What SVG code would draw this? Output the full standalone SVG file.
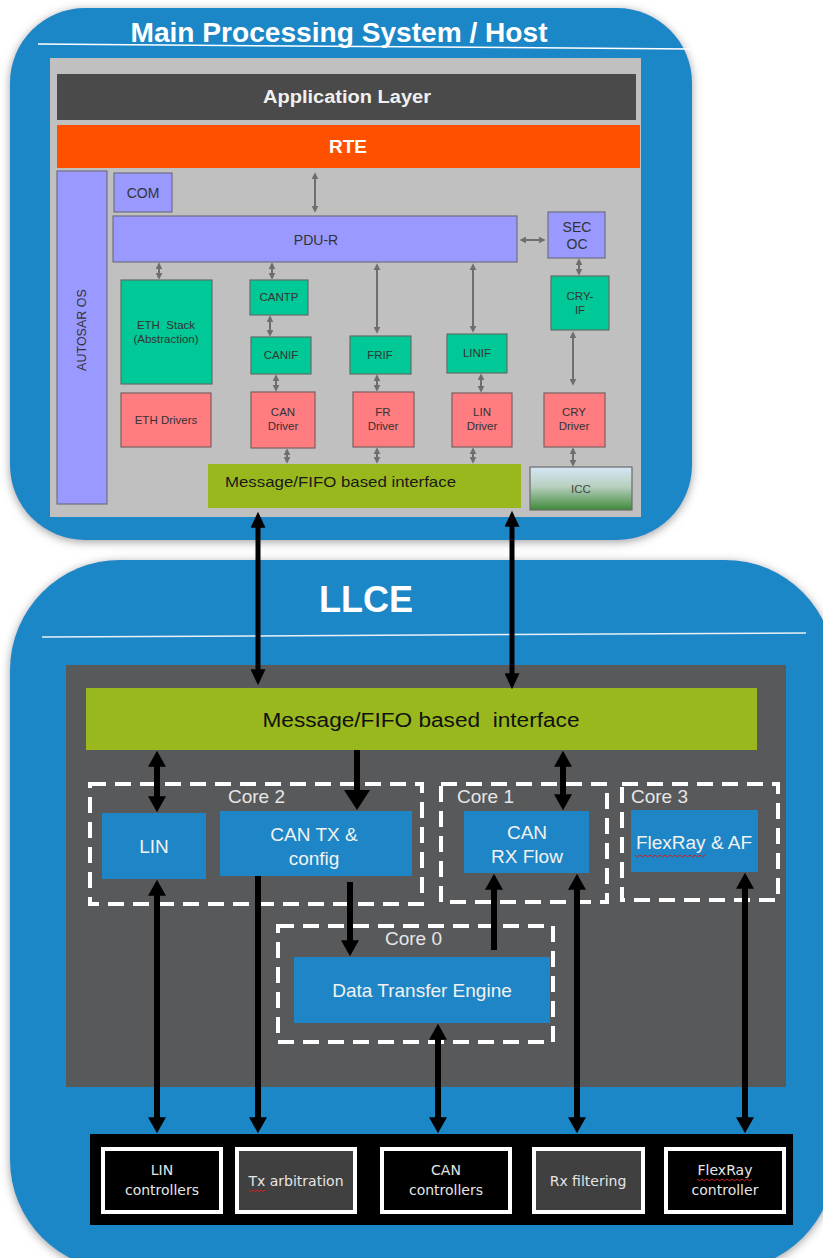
<svg xmlns="http://www.w3.org/2000/svg" width="823" height="1258" viewBox="0 0 823 1258">
<defs>
<style>
text{font-family:"Liberation Sans",Arial,sans-serif;}
.h{fill:#333;font-size:11.5px;text-anchor:middle;}
.h14{font-size:14px;}
.pu{fill:#9999ff;stroke:#6f6f80;stroke-width:1.2;}
.gr{fill:#00c896;stroke:#5f6f66;stroke-width:1.2;}
.rd{fill:#ff7c80;stroke:#7a6060;stroke-width:1.2;}
.sa{stroke:#6e6e6e;stroke-width:2;fill:none;marker-start:url(#ms);marker-end:url(#ms);}
.ba{stroke:#000;stroke-width:6;fill:none;}
.bl{fill:#1e86c6;}
.w{fill:#f2f2f2;font-size:19px;text-anchor:middle;}
.core{fill:none;stroke:#fff;stroke-width:4;stroke-dasharray:16 9;}
.cl{fill:#e6e6e6;font-size:19px;}
.ctl{stroke:#fff;stroke-width:4;}
.bt{fill:#e6e6e6;font-size:14px;text-anchor:middle;font-family:"DejaVu Sans",sans-serif;}
.sq{fill:none;stroke:#d02020;stroke-width:1;}
</style>
<marker id="ms" markerUnits="userSpaceOnUse" markerWidth="7" markerHeight="7" viewBox="0 0 10 10" refX="0.5" refY="5" orient="auto-start-reverse" preserveAspectRatio="none"><path d="M0,0 L10,5 L0,10 z" fill="#6e6e6e"/></marker>
<marker id="mb" markerUnits="userSpaceOnUse" markerWidth="16" markerHeight="18" viewBox="0 0 10 10" refX="0.5" refY="5" orient="auto-start-reverse" preserveAspectRatio="none"><path d="M0,0 L10,5 L0,10 z" fill="#000"/></marker>
<marker id="mh" markerUnits="userSpaceOnUse" markerWidth="20" markerHeight="26" viewBox="0 0 10 10" refX="0.5" refY="5" orient="auto-start-reverse" preserveAspectRatio="none"><path d="M0,0 L10,5 L0,10 z" fill="#000"/></marker>
<marker id="mm" markerUnits="userSpaceOnUse" markerWidth="16" markerHeight="15" viewBox="0 0 10 10" refX="0.5" refY="5" orient="auto-start-reverse" preserveAspectRatio="none"><path d="M0,0 L10,5 L0,10 z" fill="#000"/></marker>
<linearGradient id="icc" x1="0" y1="0" x2="0" y2="1"><stop offset="0" stop-color="#d6e6f6"/><stop offset="0.45" stop-color="#b8d0c0"/><stop offset="1" stop-color="#3f8a3a"/></linearGradient>
<filter id="sh" x="-5%" y="-5%" width="110%" height="110%"><feDropShadow dx="0" dy="2" stdDeviation="5" flood-color="#777" flood-opacity="0.7"/></filter>
</defs>
<rect width="823" height="1258" fill="#fff"/>

<g id="host">
<rect x="10" y="8" width="682" height="532" rx="75" fill="#1f87c7" filter="url(#sh)"/>
<text x="339" y="42" fill="#fff" font-size="28" font-weight="bold" text-anchor="middle" textLength="417" lengthAdjust="spacingAndGlyphs">Main Processing System / Host</text>
<line x1="38" y1="44" x2="690" y2="49" stroke="#fff" stroke-width="1.5"/>
<rect x="50" y="58" width="591" height="459" fill="#c0c0c0"/>
</g>

<g id="app-layer"><rect x="57" y="74" width="579" height="46" fill="#4a4a4a"/><text x="347" y="103" fill="#f0f0f0" font-size="18" font-weight="bold" text-anchor="middle" textLength="168" lengthAdjust="spacingAndGlyphs">Application Layer</text></g>
<g id="rte"><rect x="57" y="125" width="583" height="43" fill="#ff5000"/><text x="348" y="153" fill="#fff" font-size="19" font-weight="bold" text-anchor="middle">RTE</text></g>
<g id="autosar-os"><rect x="57" y="171" width="50" height="333" class="pu"/><text class="h" style="font-size:12.5px" transform="rotate(-90 82 330)" x="82" y="334">AUTOSAR OS</text></g>
<g id="com"><rect x="114" y="173" width="58" height="39" class="pu"/><text class="h h14" x="143" y="198">COM</text></g>
<g id="pdur"><rect x="113" y="216" width="404" height="46" class="pu"/><text class="h h14" x="316" y="245">PDU-R</text></g>
<g id="secoc"><rect x="548" y="212" width="57" height="46" class="pu"/><text class="h h14" x="577" y="232">SEC</text><text class="h h14" x="577" y="249">OC</text></g>
<g id="eth-stack"><rect x="121" y="280" width="91" height="104" class="gr"/><text class="h" x="166" y="329" xml:space="preserve">ETH  Stack</text><text class="h" x="166" y="343">(Abstraction)</text></g>
<g id="cantp"><rect x="250" y="280" width="58" height="35" class="gr"/><text class="h" x="279" y="301">CANTP</text></g>
<g id="canif"><rect x="251" y="337" width="60" height="37" class="gr"/><text class="h" x="281" y="359">CANIF</text></g>
<g id="frif"><rect x="350" y="336" width="61" height="38" class="gr"/><text class="h" x="380" y="359">FRIF</text></g>
<g id="linif"><rect x="447" y="334" width="60" height="39" class="gr"/><text class="h" x="477" y="357">LINIF</text></g>
<g id="cryif"><rect x="551" y="276" width="58" height="54" class="gr"/><text class="h" x="580" y="300">CRY-</text><text class="h" x="580" y="314">IF</text></g>
<g id="eth-drivers"><rect x="121" y="393" width="90" height="54" class="rd"/><text class="h" x="166" y="424">ETH Drivers</text></g>
<g id="can-driver"><rect x="251" y="392" width="64" height="56" class="rd"/><text class="h" x="283" y="416">CAN</text><text class="h" x="283" y="430">Driver</text></g>
<g id="fr-driver"><rect x="353" y="392" width="61" height="55" class="rd"/><text class="h" x="383" y="416">FR</text><text class="h" x="383" y="430">Driver</text></g>
<g id="lin-driver"><rect x="452" y="393" width="60" height="54" class="rd"/><text class="h" x="482" y="416">LIN</text><text class="h" x="482" y="430">Driver</text></g>
<g id="cry-driver"><rect x="544" y="393" width="61" height="54" class="rd"/><text class="h" x="574" y="416">CRY</text><text class="h" x="574" y="430">Driver</text></g>
<g id="host-msg"><rect x="208" y="464" width="313" height="44" fill="#99b81e"/><text x="225" y="487" fill="#1a1a1a" font-size="15" textLength="231" lengthAdjust="spacingAndGlyphs">Message/FIFO based interface</text></g>
<g id="icc"><rect x="530" y="467" width="102" height="43" fill="url(#icc)" stroke="#6a6a6a" stroke-width="1.2"/><text class="h" style="fill:#444" x="581" y="493">ICC</text></g>

<g id="llce">
<rect x="10" y="560" width="825" height="710" rx="110" fill="#1f87c7" filter="url(#sh)"/>
<text x="366" y="612" fill="#fff" font-size="36" font-weight="bold" text-anchor="middle">LLCE</text>
<line x1="42" y1="637" x2="806" y2="633" stroke="#e8f0f8" stroke-width="1.5"/>
<rect x="66" y="665" width="720" height="422" fill="#58595b"/>
</g>
<g id="llce-msg"><rect x="86" y="688" width="671" height="62" fill="#99b81e"/><text x="421" y="727" fill="#111" font-size="20" text-anchor="middle" textLength="317" lengthAdjust="spacingAndGlyphs" xml:space="preserve">Message/FIFO based  interface</text></g>
<g id="core2"><rect x="90" y="784" width="332" height="120" class="core"/><text class="cl" x="228" y="803">Core 2</text></g>
<g id="core1"><rect x="441" y="784" width="166" height="118" class="core"/><text class="cl" x="457" y="803">Core 1</text></g>
<g id="core3"><rect x="622" y="784" width="156" height="116" class="core"/><text class="cl" x="631" y="803">Core 3</text></g>
<g id="core0"><rect x="278" y="926" width="275" height="116" class="core"/><text class="cl" x="385" y="945">Core 0</text></g>
<g id="lin"><rect x="102" y="813" width="104" height="66" class="bl"/><text class="w" x="154" y="853">LIN</text></g>
<g id="can-tx"><rect x="220" y="811" width="192" height="65" class="bl"/><text class="w" x="314" y="841">CAN TX &amp;</text><text class="w" x="314" y="865">config</text></g>
<g id="can-rx"><rect x="464" y="811" width="125" height="62" class="bl"/><text class="w" x="527" y="839">CAN</text><text class="w" x="527" y="863">RX Flow</text></g>
<g id="flexray-af"><rect x="631" y="810" width="127" height="62" class="bl"/><text class="w" x="694" y="849">FlexRay &amp; AF</text><path class="sq" d="M635,855 l2.5,2 l2.5,-2 l2.5,2 l2.5,-2 l2.5,2 l2.5,-2 l2.5,2 l2.5,-2 l2.5,2 l2.5,-2 l2.5,2 l2.5,-2 l2.5,2 l2.5,-2 l2.5,2 l2.5,-2 l2.5,2 l2.5,-2 l2.5,2 l2.5,-2 l2.5,2 l2.5,-2 l2.5,2 l2.5,-2 l2.5,2 l2.5,-2 l2.5,2 l2.5,-2"/></g>
<g id="dte"><rect x="294" y="957" width="256" height="66" class="bl"/><text class="w" x="422" y="997">Data Transfer Engine</text></g>

<g id="ctrl-band"><rect x="90" y="1134" width="703" height="91" fill="#000"/></g>
<g id="lin-ctrl"><rect x="103" y="1149" width="118" height="63" fill="#000" class="ctl"/><text class="bt" x="162" y="1175">LIN</text><text class="bt" x="162" y="1195">controllers</text></g>
<g id="tx-arb"><rect x="237" y="1149" width="118" height="63" fill="#404040" class="ctl"/><text class="bt" x="296" y="1186">Tx arbitration</text><path class="sq" d="M249,1190 l2,1.6 l2,-1.6 l2,1.6 l2,-1.6 l2,1.6 l2,-1.6 l2,1.6 l2,-1.6"/></g>
<g id="can-ctrl"><rect x="382" y="1149" width="128" height="63" fill="#000" class="ctl"/><text class="bt" x="446" y="1175">CAN</text><text class="bt" x="446" y="1195">controllers</text></g>
<g id="rx-filt"><rect x="534" y="1149" width="109" height="63" fill="#404040" class="ctl"/><text class="bt" x="588" y="1186">Rx filtering</text></g>
<g id="fr-ctrl"><rect x="666" y="1149" width="118" height="63" fill="#000" class="ctl"/><text class="bt" x="725" y="1175">FlexRay</text><path class="sq" d="M697,1179 l2.5,1.8 l2.5,-1.8 l2.5,1.8 l2.5,-1.8 l2.5,1.8 l2.5,-1.8 l2.5,1.8 l2.5,-1.8 l2.5,1.8 l2.5,-1.8 l2.5,1.8 l2.5,-1.8 l2.5,1.8 l2.5,-1.8 l2.5,1.8 l2.5,-1.8 l2.5,1.8 l2.5,-1.8 l2.5,1.8 l2.5,-1.8 l2.5,1.8 l2.5,-1.8"/><text class="bt" x="725" y="1195">controller</text></g>

<g id="connectors">
<line class="sa" x1="315" y1="179" x2="315" y2="206"/>
<line class="sa" x1="526" y1="240" x2="539" y2="240"/>
<line class="sa" x1="579" y1="265" x2="579" y2="269"/>
<line class="sa" x1="159" y1="269" x2="159" y2="273"/>
<line class="sa" x1="272" y1="269" x2="272" y2="273"/>
<line class="sa" x1="270" y1="322" x2="270" y2="330"/>
<line class="sa" x1="377" y1="270" x2="377" y2="327"/>
<line class="sa" x1="473" y1="270" x2="473" y2="326"/>
<line class="sa" x1="276" y1="381" x2="276" y2="385"/>
<line class="sa" x1="377" y1="381" x2="377" y2="385"/>
<line class="sa" x1="481" y1="380" x2="481" y2="386"/>
<line class="sa" x1="573" y1="338" x2="573" y2="379"/>
<line class="sa" x1="287" y1="455" x2="287" y2="457"/>
<line class="sa" x1="377" y1="454" x2="377" y2="457"/>
<line class="sa" x1="473" y1="454" x2="473" y2="457"/>
<line class="sa" x1="573" y1="454" x2="573" y2="460"/>
<line x1="258" y1="527" x2="258" y2="670" stroke="#000" stroke-width="5" marker-start="url(#mm)" marker-end="url(#mm)"/>
<line x1="512" y1="526" x2="512" y2="674" stroke="#000" stroke-width="5" marker-start="url(#mm)" marker-end="url(#mm)"/>
<line class="ba" x1="157" y1="766" x2="157" y2="797" marker-start="url(#mb)" marker-end="url(#mb)"/>
<line class="ba" x1="357" y1="750" x2="357" y2="791" marker-end="url(#mh)"/>
<line class="ba" x1="563" y1="766" x2="563" y2="795" marker-start="url(#mb)" marker-end="url(#mb)"/>
<line class="ba" x1="157" y1="895" x2="157" y2="1118" marker-start="url(#mb)" marker-end="url(#mb)"/>
<line class="ba" x1="258" y1="876" x2="258" y2="1118" marker-end="url(#mb)"/>
<line class="ba" x1="350" y1="882" x2="350" y2="941" marker-end="url(#mb)"/>
<line class="ba" x1="494" y1="950" x2="494" y2="889" marker-end="url(#mb)"/>
<line class="ba" x1="438" y1="1039" x2="438" y2="1118" marker-start="url(#mb)" marker-end="url(#mb)"/>
<line class="ba" x1="577" y1="889" x2="577" y2="1118" marker-start="url(#mb)" marker-end="url(#mb)"/>
<line class="ba" x1="745" y1="888" x2="745" y2="1118" marker-start="url(#mb)" marker-end="url(#mb)"/>
</g>
</svg>
